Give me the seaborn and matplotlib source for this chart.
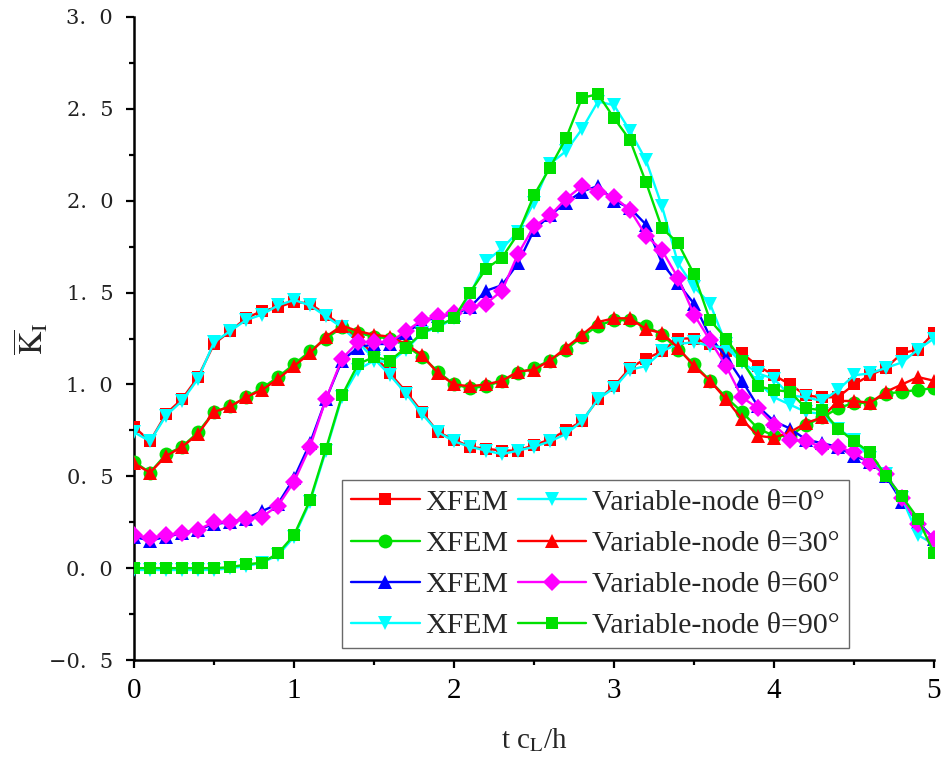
import matplotlib
matplotlib.use("Agg")
import matplotlib.pyplot as plt
from matplotlib.ticker import MultipleLocator, FuncFormatter
import seaborn as sns
import pandas as pd

# Dimensionless time t*cL/h
t = [0.0, 0.1, 0.2, 0.3, 0.4, 0.5, 0.6, 0.7, 0.8, 0.9, 1.0,
     1.1, 1.2, 1.3, 1.4, 1.5, 1.6, 1.7, 1.8, 1.9, 2.0,
     2.1, 2.2, 2.3, 2.4, 2.5, 2.6, 2.7, 2.8, 2.9, 3.0,
     3.1, 3.2, 3.3, 3.4, 3.5, 3.6, 3.7, 3.8, 3.9, 4.0,
     4.1, 4.2, 4.3, 4.4, 4.5, 4.6, 4.7, 4.8, 4.9, 5.0]

# Normalised mode-I stress intensity factor, XFEM reference solutions
xfem_0 = [0.77, 0.69, 0.84, 0.92, 1.04, 1.22, 1.29, 1.36, 1.40, 1.42, 1.45,
          1.44, 1.38, 1.32, 1.25, 1.16, 1.06, 0.96, 0.85, 0.74, 0.70,
          0.66, 0.65, 0.64, 0.64, 0.67, 0.70, 0.75, 0.80, 0.92, 0.99,
          1.09, 1.14, 1.18, 1.25, 1.25, 1.22, 1.18, 1.17, 1.10, 1.05,
          1.00, 0.94, 0.93, 0.93, 1.00, 1.05, 1.09, 1.17, 1.19, 1.28]
xfem_30 = [0.58, 0.52, 0.62, 0.66, 0.74, 0.85, 0.88, 0.93, 0.98, 1.04, 1.11,
           1.18, 1.25, 1.31, 1.28, 1.26, 1.25, 1.21, 1.15, 1.07, 1.00,
           0.98, 0.99, 1.02, 1.06, 1.09, 1.13, 1.19, 1.26, 1.32, 1.35,
           1.35, 1.32, 1.27, 1.19, 1.11, 1.02, 0.93, 0.85, 0.76, 0.72,
           0.72, 0.78, 0.82, 0.87, 0.90, 0.90, 0.95, 0.96, 0.97, 0.98]
xfem_60 = [0.17, 0.15, 0.17, 0.19, 0.21, 0.24, 0.25, 0.27, 0.31, 0.35, 0.49,
           0.68, 0.92, 1.13, 1.20, 1.22, 1.22, 1.28, 1.34, 1.37, 1.38,
           1.42, 1.51, 1.54, 1.66, 1.84, 1.92, 1.99, 2.05, 2.08, 2.00,
           1.96, 1.87, 1.66, 1.55, 1.44, 1.26, 1.15, 1.02, 0.88, 0.80,
           0.76, 0.70, 0.68, 0.66, 0.61, 0.58, 0.50, 0.36, 0.25, 0.16]
xfem_90 = [-0.01, -0.01, -0.01, -0.01, -0.01, -0.01, 0.00, 0.01, 0.03, 0.07, 0.17,
           0.36, 0.64, 0.93, 1.08, 1.13, 1.12, 1.19, 1.28, 1.31, 1.36,
           1.49, 1.67, 1.74, 1.83, 1.99, 2.20, 2.27, 2.39, 2.54, 2.52,
           2.38, 2.22, 1.97, 1.66, 1.53, 1.44, 1.22, 1.12, 1.01, 0.93,
           0.89, 0.85, 0.84, 0.76, 0.70, 0.60, 0.51, 0.38, 0.18, 0.13]

# Variable-node element results for four crack inclinations
vn_0 = [0.74, 0.69, 0.83, 0.91, 1.03, 1.23, 1.29, 1.35, 1.38, 1.43, 1.46,
        1.43, 1.37, 1.31, 1.23, 1.14, 1.05, 0.95, 0.84, 0.74, 0.69,
        0.66, 0.64, 0.62, 0.64, 0.66, 0.69, 0.73, 0.80, 0.92, 0.98,
        1.08, 1.10, 1.18, 1.22, 1.23, 1.21, 1.20, 1.12, 1.06, 1.03,
        0.94, 0.93, 0.91, 0.97, 1.05, 1.06, 1.09, 1.12, 1.19, 1.25]
vn_30 = [0.57, 0.52, 0.61, 0.66, 0.73, 0.85, 0.88, 0.93, 0.97, 1.03, 1.10,
         1.17, 1.26, 1.32, 1.29, 1.27, 1.26, 1.22, 1.16, 1.06, 1.00,
         0.99, 1.00, 1.02, 1.07, 1.08, 1.13, 1.20, 1.27, 1.34, 1.36,
         1.36, 1.30, 1.28, 1.20, 1.10, 1.02, 0.92, 0.81, 0.72, 0.71,
         0.74, 0.79, 0.82, 0.91, 0.91, 0.90, 0.96, 1.00, 1.04, 1.02]
vn_60 = [0.18, 0.165, 0.18, 0.19, 0.21, 0.25, 0.25, 0.27, 0.28, 0.34, 0.47,
         0.66, 0.92, 1.14, 1.23, 1.23, 1.23, 1.29, 1.35, 1.37, 1.39,
         1.42, 1.44, 1.51, 1.71, 1.86, 1.92, 2.01, 2.08, 2.05, 2.02,
         1.95, 1.81, 1.73, 1.58, 1.38, 1.24, 1.10, 0.93, 0.87, 0.78,
         0.70, 0.69, 0.66, 0.66, 0.63, 0.57, 0.51, 0.38, 0.24, 0.16]
vn_90 = [0.00, 0.00, 0.00, 0.00, 0.00, 0.00, 0.005, 0.02, 0.03, 0.08, 0.18,
         0.37, 0.65, 0.94, 1.11, 1.15, 1.13, 1.20, 1.28, 1.32, 1.36,
         1.50, 1.63, 1.69, 1.82, 2.03, 2.18, 2.34, 2.56, 2.58, 2.45,
         2.33, 2.10, 1.85, 1.77, 1.60, 1.35, 1.25, 1.13, 0.99, 0.97,
         0.96, 0.87, 0.86, 0.76, 0.69, 0.63, 0.50, 0.39, 0.27, 0.08]

series_labels = ["XFEM", "XFEM", "XFEM", "XFEM",
                 "Variable-node θ=0°", "Variable-node θ=30°",
                 "Variable-node θ=60°", "Variable-node θ=90°"]
series_values = [xfem_0, xfem_30, xfem_60, xfem_90, vn_0, vn_30, vn_60, vn_90]

colors = ["#FF0000", "#00E000", "#0000FF", "#00FFFF",
          "#00FFFF", "#FF0000", "#FF00FF", "#00E000"]
markers = ["s", "o", "^", "v", "v", "^", "D", "s"]
msizes = [9, 10, 10.5, 10.5, 10.5, 10.5, 9, 9]

sns.set_style("ticks")
plt.rcParams["font.family"] = ["Liberation Serif", "DejaVu Serif"]
plt.rcParams["mathtext.fontset"] = "stix"

fig = plt.figure(figsize=(9.44, 7.62), dpi=100)
ax = fig.add_axes([134 / 944, 1 - 660 / 762, 800 / 944, 643 / 762])

for i, (lab, vals) in enumerate(zip(series_labels, series_values)):
    df = pd.DataFrame({"t": t, "K": vals})
    sns.lineplot(data=df, x="t", y="K", ax=ax, color=colors[i],
                 marker=markers[i], markersize=msizes[i], markeredgewidth=0,
                 linewidth=1.7, label=lab, errorbar=None, sort=False,
                 zorder=3 + i)

ax.set_xlim(0, 5)
ax.set_ylim(-0.5, 3.0)
ax.xaxis.set_major_locator(MultipleLocator(1))
ax.xaxis.set_minor_locator(MultipleLocator(0.5))
ax.yaxis.set_major_locator(MultipleLocator(0.5))
ax.yaxis.set_minor_locator(MultipleLocator(0.25))
ax.yaxis.set_major_formatter(
    FuncFormatter(lambda v, p: f"{v:.1f}".replace(".", ".  ").replace("-", "\u2212")))
ax.xaxis.set_major_formatter(FuncFormatter(lambda v, p: f"{v:.0f}"))

for s in ["top", "right"]:
    ax.spines[s].set_visible(False)
for s in ["left", "bottom"]:
    ax.spines[s].set_linewidth(1.8)
    ax.spines[s].set_color("black")

ax.tick_params(which="major", direction="out", length=6, width=1.6,
               colors="black")
ax.tick_params(which="minor", direction="out", length=3.5, width=1.6,
               colors="black")
ax.tick_params(axis="y", which="major", pad=9)
ax.tick_params(axis="x", which="major", labelsize=21, pad=7)
for lbl in ax.get_yticklabels():
    lbl.set_fontfamily("DejaVu Serif")
    lbl.set_fontsize(15)
    lbl.set_color("#222222")

ax.set_xlabel(r"t c$_\mathrm{L}$/h", fontsize=21, labelpad=16)
ax.set_ylabel(r"$\overline{\mathrm{K}}_\mathrm{I}$", fontsize=23,
              va="center", ha="center")
ax.yaxis.set_label_coords(-0.128, 0.5)

handles, labels = ax.get_legend_handles_labels()
leg = ax.legend(handles, labels, ncol=2, loc="lower left",
                bbox_to_anchor=(0.26, 0.018), borderaxespad=0,
                fontsize=21.5, frameon=True, fancybox=False,
                handlelength=2.3, handletextpad=0.2, columnspacing=0.3,
                labelspacing=0.48, borderpad=0.3)
leg.get_frame().set_edgecolor("#444444")
leg.get_frame().set_linewidth(1.0)
leg.set_zorder(20)

fig.savefig("out.png", dpi=100, facecolor="white")
